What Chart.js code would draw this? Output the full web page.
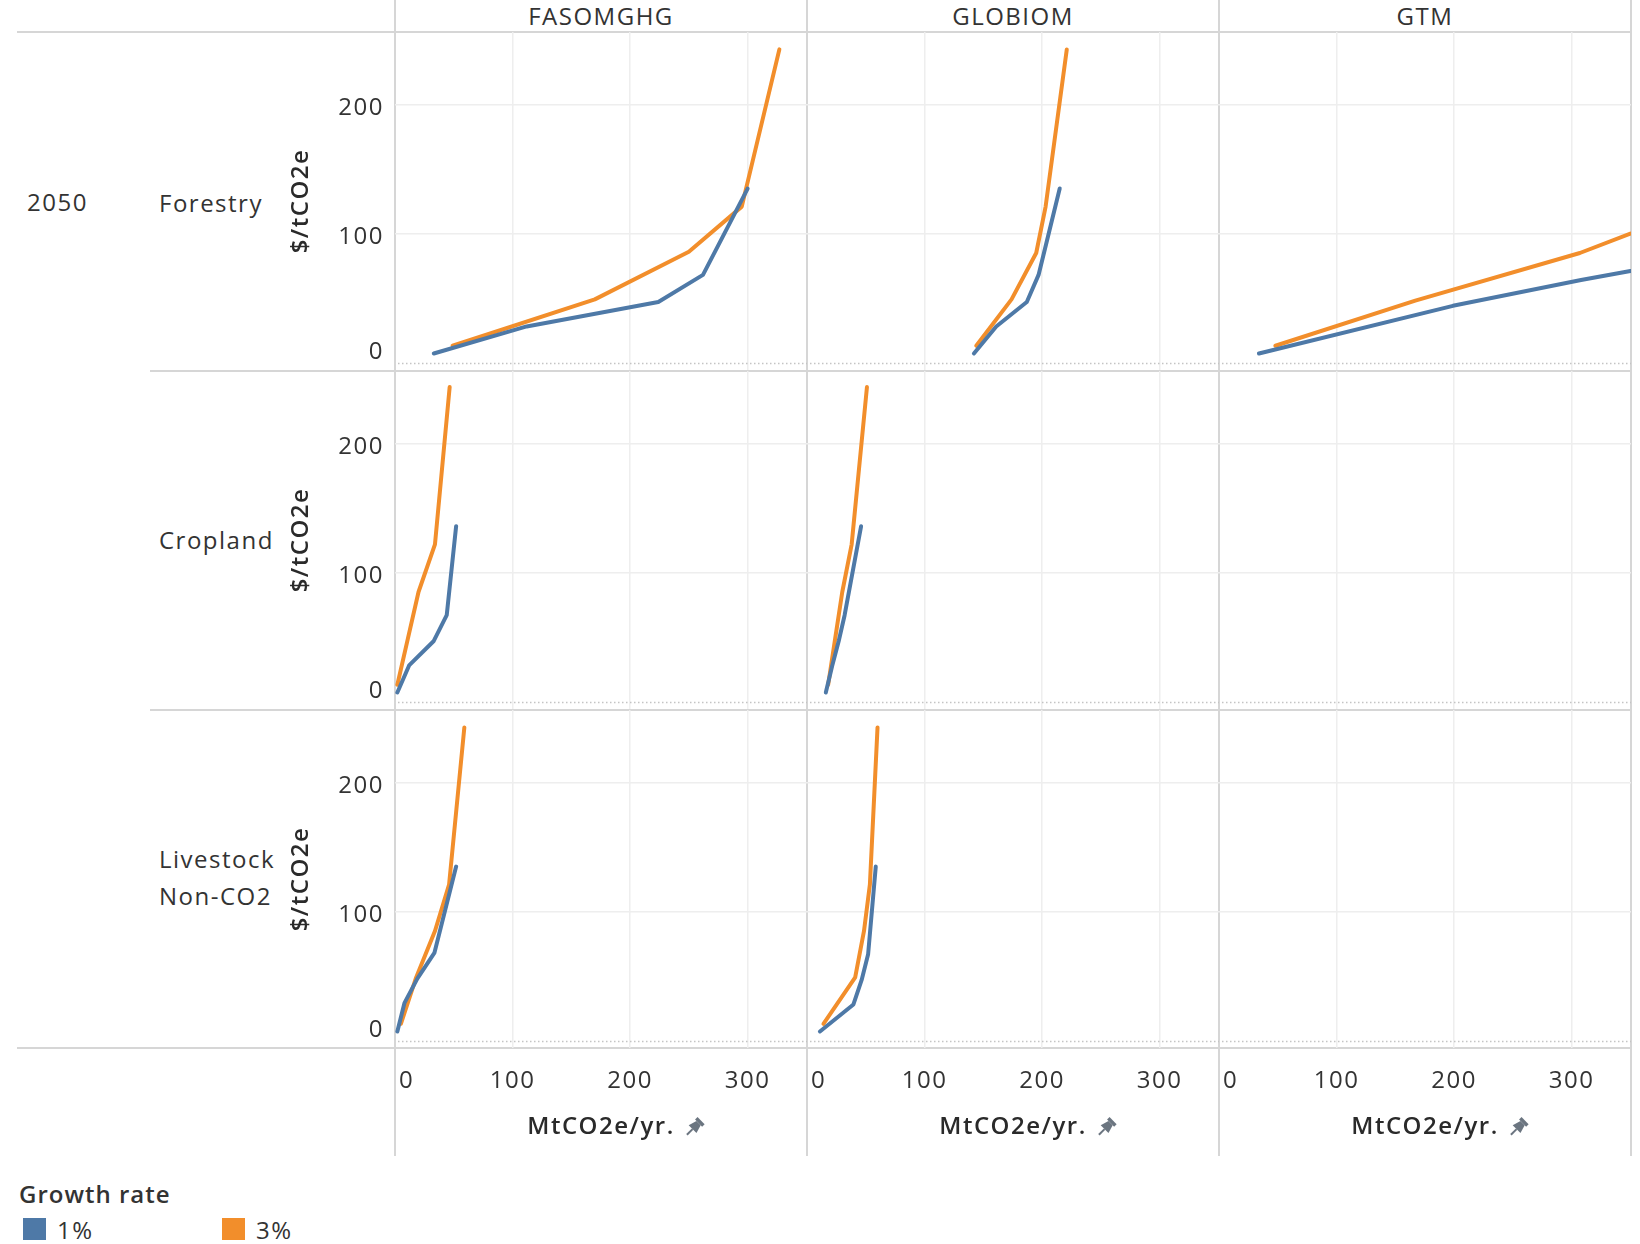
<!DOCTYPE html>
<html>
<head>
<meta charset="utf-8">
<script src="https://cdn.jsdelivr.net/npm/chart.js@4.4.1/dist/chart.umd.min.js"></script>
<style>
  html, body { margin: 0; padding: 0; background: #fff; }
  #page { position: relative; width: 1640px; height: 1244px; overflow: hidden;
          font-family: "Open Sans", sans-serif; color: #333; letter-spacing: 1.5px; }
  .rule { position: absolute; background: #d6d6d6; }
  .txt { position: absolute; font-size: 24px; white-space: nowrap; line-height: 34px; }
  .swatch { position: absolute; width: 23px; height: 22px; }
  canvas { position: absolute; }
</style>
</head>
<body>
<div id="page"></div>
<script>
// facets
const models = ["FASOMGHG", "GLOBIOM", "GTM"];
const sectors = ["Forestry", "Cropland", "Livestock"];
const growthRates = ["1%", "3%"];
const seriesColors = ["#4e79a7", "#f28e2b"];
const yTicks = [0, 100, 200];
const xTicks = [0, 100, 200, 300];

// [MtCO2e/yr., $/tCO2e]
const forestryFasom1 = [[33, 7], [112, 28], [224, 47], [262, 68], [300, 135]];
const forestryFasom3 = [[49, 13], [170, 49], [250, 86], [295, 121], [327, 243]];
const forestryGlobiom1 = [[142, 7], [161, 28], [187, 47], [197, 68], [215, 135]];
const forestryGlobiom3 = [[144, 13], [174, 49], [195, 85], [203, 121], [221, 243]];
const forestryGtm1 = [[34, 7], [199, 44], [308, 64], [350, 71]];
const forestryGtm3 = [[48, 13], [167, 48], [307, 85], [350, 100]];

const croplandFasom1 = [[2, 7], [12, 28], [33, 47], [44, 67], [52, 136]];
const croplandFasom3 = [[2, 13], [11, 49], [20, 85], [34, 122], [46.5, 244]];
const croplandGlobiom1 = [[16, 7], [21.5, 28], [27, 47], [32, 67], [46, 136]];
const croplandGlobiom3 = [[18, 13], [24, 49], [30, 85], [38, 122], [51, 244]];

const livestockFasom1 = [[2, 7], [8, 29], [19, 48], [33.5, 68], [52, 135]];
const livestockFasom3 = [[5, 13], [18, 49], [34, 85], [46, 121], [59, 243]];
const livestockGlobiom1 = [[11, 7], [39.5, 28], [46.5, 47], [52, 67], [58.5, 135]];
const livestockGlobiom3 = [[14, 13], [41, 49], [48.5, 85], [53.5, 121], [60, 243]];

const panelData = {
  "Forestry|FASOMGHG": [forestryFasom1, forestryFasom3],
  "Forestry|GLOBIOM": [forestryGlobiom1, forestryGlobiom3],
  "Forestry|GTM": [forestryGtm1, forestryGtm3],
  "Cropland|FASOMGHG": [croplandFasom1, croplandFasom3],
  "Cropland|GLOBIOM": [croplandGlobiom1, croplandGlobiom3],
  "Livestock|FASOMGHG": [livestockFasom1, livestockFasom3],
  "Livestock|GLOBIOM": [livestockGlobiom1, livestockGlobiom3],
};

const X_MIN = 0, X_MAX = 350.5;
const Y_MIN = -5.8, Y_MAX = 256.5;

const FONT = '"Open Sans", sans-serif';
const GRID = "#eeeeee";
const TICK = "#333333";
const TITLE = "#2a2a2a";

// layout (px)
const COL_X = [395, 807, 1219];
const COL_W = 412;
const ROW_Y = [32, 371, 710];
const ROW_H = 338;
const LEFT_AXIS = 110;
const BOTTOM_AXIS = 108;

const page = document.getElementById("page");

function addDiv(cls, css, text) {
  const d = document.createElement("div");
  d.className = cls;
  Object.assign(d.style, css);
  if (text !== undefined) d.innerHTML = text;
  page.appendChild(d);
  return d;
}

// frame rules
addDiv("rule", { left: "17px", top: "31px", width: "1615px", height: "2px" });
addDiv("rule", { left: "150px", top: "370px", width: "1482px", height: "2px" });
addDiv("rule", { left: "150px", top: "709px", width: "1482px", height: "2px" });
addDiv("rule", { left: "17px", top: "1047px", width: "1615px", height: "2px" });
for (const x of [394, 806, 1218, 1630]) {
  addDiv("rule", { left: x + "px", top: "0px", width: "2px", height: "1156px" });
}

// headers
models.forEach((m, c) => {
  addDiv("txt", { left: COL_X[c] + "px", top: "-1px", width: COL_W + "px", textAlign: "center" }, m);
});
addDiv("txt", { left: "27px", top: "185px" }, "2050");
addDiv("txt", { left: "159px", top: "186px" }, "Forestry");
addDiv("txt", { left: "159px", top: "523px" }, "Cropland");
addDiv("txt", { left: "159px", top: "841px", lineHeight: "36.5px" }, "Livestock<br>Non-CO2");

// legend
addDiv("txt", { left: "19px", top: "1177px", fontWeight: "600", letterSpacing: "1px" }, "Growth rate");
addDiv("swatch", { left: "23px", top: "1218px", background: seriesColors[0] });
addDiv("txt", { left: "57px", top: "1213px" }, growthRates[0]);
addDiv("swatch", { left: "222px", top: "1218px", background: seriesColors[1] });
addDiv("txt", { left: "256px", top: "1213px" }, growthRates[1]);

const spacing = {
  id: "spacing",
  beforeDraw(chart) { chart.ctx.letterSpacing = "1.5px"; },
};

const zeroLine = {
  id: "zeroLine",
  beforeDatasetsDraw(chart) {
    const { ctx, chartArea: a, scales: { y } } = chart;
    const py = Math.round(y.getPixelForValue(0)) + 0.5;
    ctx.save();
    ctx.strokeStyle = "#c4c4c4";
    ctx.lineWidth = 1.5;
    ctx.setLineDash([1.5, 2.5]);
    ctx.beginPath();
    ctx.moveTo(a.left + 3, py);
    ctx.lineTo(a.right, py);
    ctx.stroke();
    ctx.restore();
  },
};

// little pushpin next to the x title
const pin = {
  id: "pin",
  afterDraw(chart) {
    const s = chart.scales.x;
    if (!s.options.title.display) return;
    const ctx = chart.ctx;
    ctx.save();
    ctx.font = "600 24px " + FONT;
    const w = ctx.measureText(s.options.title.text).width;
    ctx.translate((s.left + s.right) / 2 + w / 2 + 20, s.bottom - 14 - 15);
    ctx.rotate(Math.PI / 4);
    ctx.fillStyle = "#6b7580";
    ctx.fillRect(-5, -9, 10, 3.5);
    ctx.beginPath();
    ctx.moveTo(-3, -5.5);
    ctx.lineTo(3, -5.5);
    ctx.lineTo(5.5, 3);
    ctx.lineTo(-5.5, 3);
    ctx.closePath();
    ctx.fill();
    ctx.fillRect(-1, 3, 2, 8);
    ctx.restore();
  },
};

function makePanel(r, c) {
  const firstCol = c === 0;
  const lastRow = r === 2;
  const left = firstCol ? COL_X[c] - LEFT_AXIS : COL_X[c];
  const w = COL_W + (firstCol ? LEFT_AXIS : 0);
  const h = ROW_H + (lastRow ? BOTTOM_AXIS : 0);

  const cv = document.createElement("canvas");
  cv.width = w;
  cv.height = h;
  Object.assign(cv.style, { left: left + "px", top: ROW_Y[r] + "px", width: w + "px", height: h + "px" });
  page.appendChild(cv);

  const series = panelData[sectors[r] + "|" + models[c]] || [[], []];

  new Chart(cv, {
    type: "line",
    data: {
      datasets: series.map((pts, i) => ({
        label: growthRates[i],
        data: pts.map(([x, y]) => ({ x, y })),
        borderColor: seriesColors[i],
        borderWidth: 4,
        pointRadius: 0,
        tension: 0,
        fill: false,
        borderJoinStyle: "round",
        borderCapStyle: "round",
      })),
    },
    options: {
      responsive: false,
      animation: false,
      devicePixelRatio: 1,
      layout: { padding: 0 },
      plugins: { legend: { display: false }, tooltip: { enabled: false } },
      scales: {
        x: {
          type: "linear",
          min: X_MIN,
          max: X_MAX,
          afterBuildTicks: (s) => { s.ticks = [...xTicks, X_MAX].map((v) => ({ value: v })); },
          afterFit: (s) => { s.height = lastRow ? BOTTOM_AXIS : 0; s.paddingLeft = 0; s.paddingRight = 0; },
          grid: {
            color: (ctx) => (ctx.tick && (ctx.tick.value === 0 || ctx.tick.value === X_MAX)) ? "rgba(0,0,0,0)" : GRID,
            lineWidth: 1.5,
            drawTicks: false,
          },
          border: { display: false },
          ticks: {
            display: lastRow,
            align: "inner",
            padding: 19,
            maxRotation: 0,
            autoSkip: false,
            color: TICK,
            font: { family: FONT, size: 24 },
            callback: (v) => (v === X_MAX ? "" : v === 0 ? "\u200A0" : String(v)),
          },
          title: {
            display: lastRow,
            text: "MtCO2e/yr.",
            color: TITLE,
            font: { family: FONT, size: 24, weight: "600" },
            padding: { top: 0, bottom: 14 },
          },
        },
        y: {
          min: Y_MIN,
          max: Y_MAX,
          afterBuildTicks: (s) => { s.ticks = yTicks.map((v) => ({ value: v })); },
          afterFit: (s) => { s.width = firstCol ? LEFT_AXIS : 0; s.paddingTop = 0; s.paddingBottom = 0; },
          grid: {
            color: (ctx) => (ctx.tick && ctx.tick.value === 0) ? "rgba(0,0,0,0)" : GRID,
            lineWidth: 1.5,
            drawTicks: false,
          },
          border: { display: false },
          ticks: {
            display: firstCol,
            padding: 11,
            labelOffset: 3,
            color: TICK,
            font: (ctx) => ({ family: FONT, size: 24, lineHeight: ctx.tick && ctx.tick.value === 0 ? 1.08 : 1.2 }),
            callback: (v) => (v === 0 ? ["0", ""] : String(v)),
          },
          title: {
            display: firstCol,
            text: "$/tCO2e",
            color: TITLE,
            font: { family: FONT, size: 24, weight: "600" },
            padding: { top: 1.5, bottom: 0 },
          },
        },
      },
    },
    plugins: [spacing, zeroLine, pin],
  });
}

for (let r = 0; r < sectors.length; r++) {
  for (let c = 0; c < models.length; c++) makePanel(r, c);
}
</script>
</body>
</html>
